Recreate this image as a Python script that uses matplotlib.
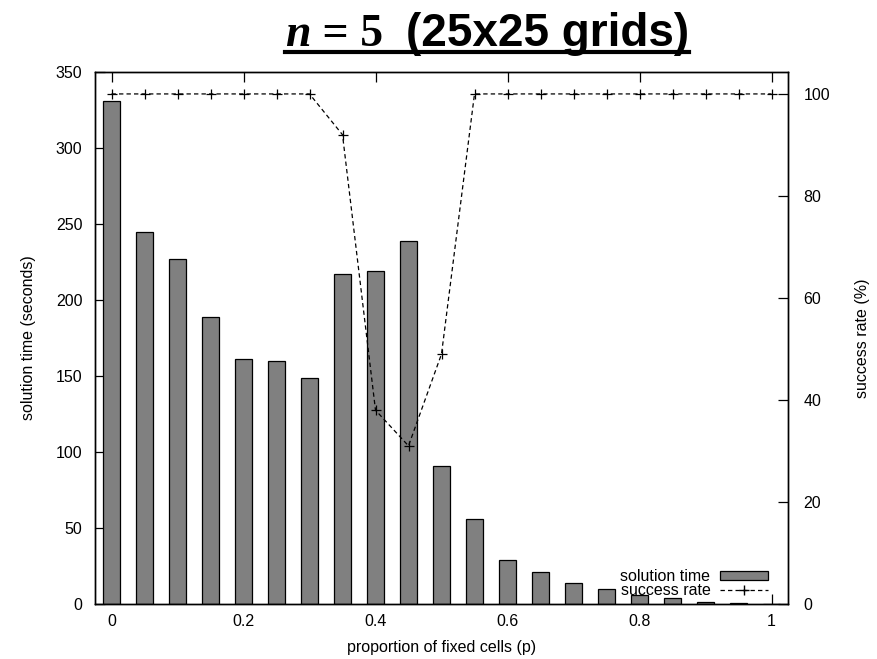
import numpy as np
import matplotlib
matplotlib.use('Agg')
import matplotlib.pyplot as plt
from matplotlib.lines import Line2D
from matplotlib.patches import Patch

plt.rcParams['font.family'] = ['Liberation Sans', 'DejaVu Sans']

# データ
p = [0.0, 0.05, 0.1, 0.15, 0.2, 0.25, 0.3, 0.35, 0.4, 0.45, 0.5,
     0.55, 0.6, 0.65, 0.7, 0.75, 0.8, 0.85, 0.9, 0.95, 1.0]
solution_time = [331, 245, 227, 189, 161, 160, 149, 217, 219, 239, 91,
                 56, 29, 21, 14, 10, 6, 4, 1.3, 0.4, 0.2]
success_rate = [100, 100, 100, 100, 100, 100, 100, 92, 38, 31, 49,
                100, 100, 100, 100, 100, 100, 100, 100, 100, 100]

FS = 11.5

fig = plt.figure(figsize=(8.77, 6.59), dpi=100)
ax = fig.add_axes([95 / 877, 1 - 604 / 659, 693 / 877, 532 / 659])
ax2 = ax.twinx()

ax.bar(p, solution_time, width=0.027, color='#808080', edgecolor='black',
       linewidth=0.9, zorder=2)
ax2.plot(p, success_rate, color='black', linestyle='--', dashes=(3.5, 2.5),
         linewidth=0.9, marker='+', markersize=7, markeredgewidth=0.9)

ax.set_xlim(-0.025, 1.025)
ax.set_ylim(0, 350)
ax2.set_ylim(0, 104.3)
ax.set_xticks([0, 0.2, 0.4, 0.6, 0.8, 1.0])
ax.set_xticklabels(['0', '0.2', '0.4', '0.6', '0.8', '1'])
ax.set_yticks(range(0, 351, 50))
ax2.set_yticks(range(0, 101, 20))

ax.tick_params(axis='x', direction='in', top=True, length=7, width=0.9,
               labelsize=FS, pad=7)
ax.tick_params(axis='y', direction='in', right=False, length=7, width=0.9,
               labelsize=FS, pad=9)
ax2.tick_params(axis='y', direction='in', length=7, width=0.9,
                labelsize=FS, pad=11)
for a in (ax, ax2):
    for s in a.spines.values():
        s.set_linewidth(1.0)

ax.set_xlabel('proportion of fixed cells (p)', fontsize=FS, labelpad=8)
ax.set_ylabel('solution time (seconds)', fontsize=FS, labelpad=14)
ax2.set_ylabel('success rate (%)', fontsize=FS, labelpad=18)

handles = [Patch(facecolor='#808080', edgecolor='black', linewidth=0.9),
           Line2D([0, 0.5, 1], [0, 0, 0], color='black', linestyle='--',
                  dashes=(3.5, 2.5), linewidth=0.9, marker='+', markersize=7,
                  markevery=[1])]
leg = ax.legend(handles, ['solution time', 'success rate'], loc='lower right',
                bbox_to_anchor=(0.971, 0.012), frameon=False, markerfirst=False,
                fontsize=FS, handlelength=3.0, handleheight=0.5,
                labelspacing=-0.1, handletextpad=0.6, borderpad=0,
                borderaxespad=0)

# タイトル（部分ごとにフォントを変える）
fig.canvas.draw()
renderer = fig.canvas.get_renderer()
pieces = [('n', dict(family='Liberation Serif', style='italic', weight='bold')),
          (' = 5  ', dict(family='Liberation Serif', weight='bold')),
          ('(25x25 grids)', dict(family='Liberation Sans', weight='bold'))]
y_base = 1 - 46 / 659
texts = []
for s, kw in pieces:
    t = fig.text(0, y_base, s, fontsize=33, va='baseline', ha='left', **kw)
    texts.append(t)
widths = [t.get_window_extent(renderer).width / fig.bbox.width for t in texts]
total = sum(widths)
x0 = 487 / 877 - total / 2
x = x0
for t, w in zip(texts, widths):
    t.set_x(x)
    x += w
fig.add_artist(Line2D([x0, x0 + total], [1 - 52 / 659] * 2, color='black',
                      linewidth=3, transform=fig.transFigure))

fig.savefig('out.png', dpi=100, facecolor='white')
